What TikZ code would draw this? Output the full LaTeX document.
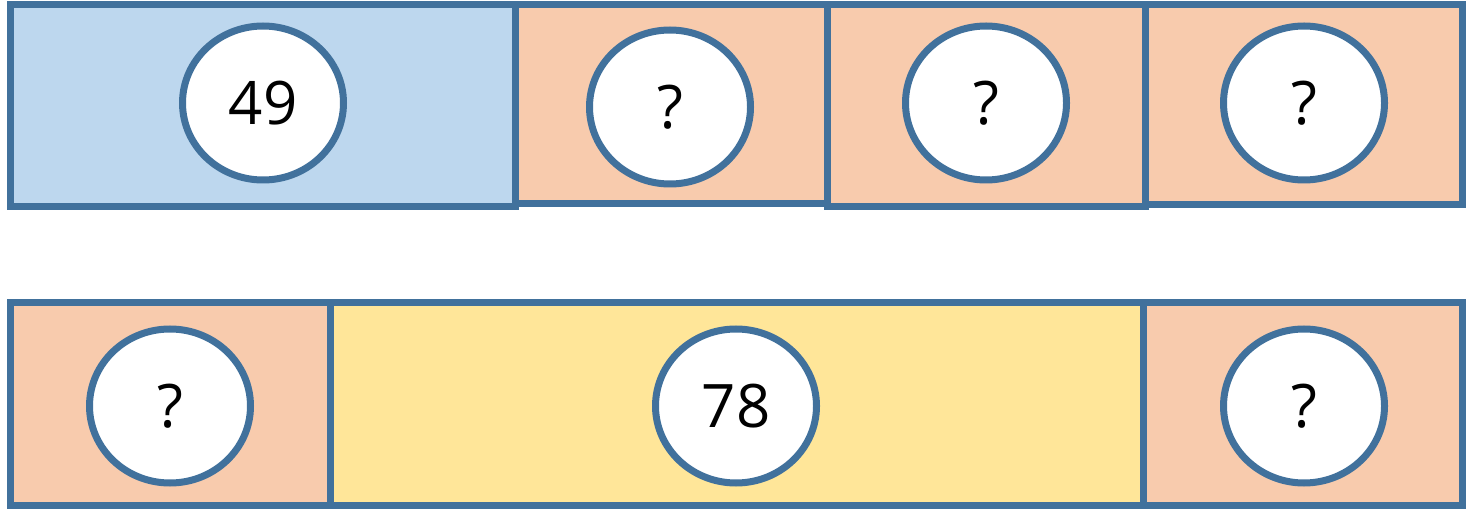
\documentclass[tikz,border=0pt]{standalone}
\usepackage{fontspec}
\setmainfont{Open Sans}
\usetikzlibrary{shapes.geometric}
\definecolor{edge}{HTML}{41719C}
\definecolor{bluefill}{HTML}{BDD7EE}
\definecolor{orangefill}{HTML}{F8CBAD}
\definecolor{yellowfill}{HTML}{FFE699}
\tikzset{
  part/.style={draw=edge, line width=7pt, rectangle, inner sep=0pt, outer sep=0pt},
  val/.style={draw=edge, line width=7pt, ellipse, fill=white, inner sep=0pt,
    minimum width=161pt, minimum height=154pt, font=\fontsize{60}{60}\selectfont}
}
\begin{document}
\begin{tikzpicture}[x=1pt,y=-1pt]
\useasboundingbox (0,0) rectangle (1466,510);
% top row
\node[part, fill=bluefill, minimum width=505pt, minimum height=202pt] (b1) at (262.5,106) {};
\node[part, fill=orangefill, minimum width=312pt, minimum height=199pt] (b2) at (671,104.5) {};
\node[part, fill=orangefill, minimum width=318pt, minimum height=202pt] (b3) at (986,106) {};
\node[part, fill=orangefill, minimum width=317pt, minimum height=200pt] (b4) at (1303.5,105) {};
% bottom row
\node[part, fill=orangefill, minimum width=320pt, minimum height=202pt] (c1) at (170,404) {};
\node[part, fill=yellowfill, minimum width=813pt, minimum height=202pt] (c2) at (736.5,404) {};
\node[part, fill=orangefill, minimum width=319pt, minimum height=202pt] (c3) at (1302.5,404) {};
% values
\node[val] (v1) at (263,103) {49};
\node[val] (v2) at (670,107) {?};
\node[val] (v3) at (986,103) {?};
\node[val] (v4) at (1304,103) {?};
\node[val] (w1) at (170,406) {?};
\node[val] (w2) at (736,406) {78};
\node[val] (w3) at (1304,406) {?};
\end{tikzpicture}
\end{document}
